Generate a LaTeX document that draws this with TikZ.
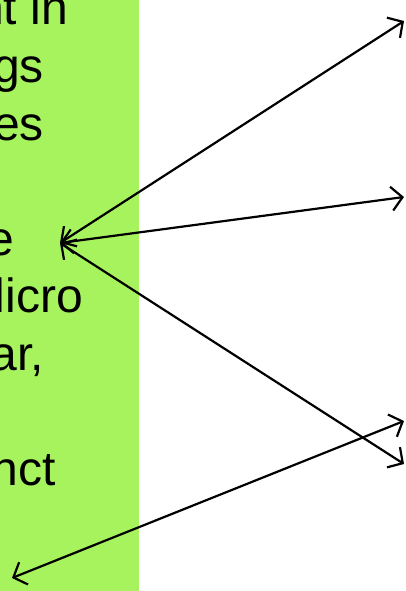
\documentclass[tikz,border=0pt]{standalone}
\usepackage{fontspec}
\setmainfont{Liberation Sans}
\usetikzlibrary{arrows.meta}
\definecolor{panelgreen}{RGB}{166,243,94}
\begin{document}
\begin{tikzpicture}[x=1pt,y=-1pt,
  txt/.style={anchor=base east,inner sep=0pt,font=\fontsize{48}{57.5}\selectfont},
  link/.style={line width=2.2pt,{Straight Barb[length=11pt,width=24pt]}-{Straight Barb[length=11pt,width=24pt]}}]
\useasboundingbox (0,0) rectangle (405,591);
\fill[panelgreen] (0,0) rectangle (139,591);
\node[txt] (t1) at (68,25) {nt in};
\node[txt] (t2) at (44,82.5) {gs};
\node[txt] (t3) at (44,140) {es};
\node[txt] (t4) at (14,255) {e};
\node[txt] (t5) at (83,312.5) {licro};
\node[txt] (t6) at (44,370) {ar,};
\node[txt] (t7) at (56,485) {nct};
\coordinate (hub) at (60,243);
\coordinate (r1) at (404,21);
\coordinate (r2) at (404,197);
\coordinate (r3) at (404,464);
\coordinate (r4) at (404,421);
\coordinate (ll) at (12,578);
\draw[link] (hub) -- (r1);
\draw[link] (hub) -- (r2);
\draw[link] (hub) -- (r3);
\draw[link] (ll) -- (r4);
\end{tikzpicture}
\end{document}
